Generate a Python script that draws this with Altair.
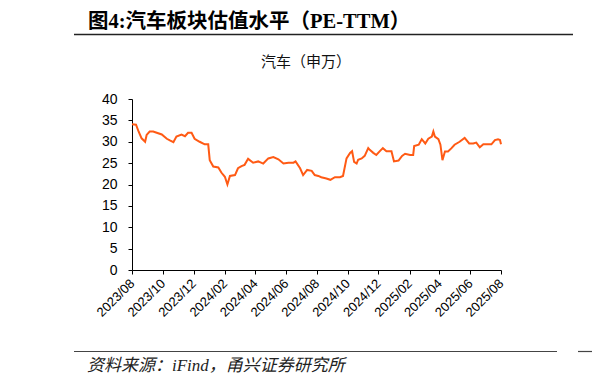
import altair as alt
import pandas as pd

TITLE = "图4:汽车板块估值水平（PE-TTM）"
SUBTITLE = "汽车（申万）"
SOURCE = "资料来源：iFind，甬兴证券研究所"

dates = ["2023-08-01","2023-08-09","2023-08-14","2023-08-20","2023-08-27","2023-08-30",
         "2023-09-05","2023-09-12","2023-09-19","2023-09-29",
         "2023-10-09","2023-10-15","2023-10-22","2023-10-28",
         "2023-11-07","2023-11-14","2023-11-20","2023-11-27",
         "2023-12-03","2023-12-13","2023-12-23","2023-12-30",
         "2024-01-02","2024-01-09","2024-01-19","2024-01-25",
         "2024-02-01","2024-02-06","2024-02-11","2024-02-21","2024-02-27",
         "2024-03-05","2024-03-11","2024-03-18","2024-03-28",
         "2024-04-07","2024-04-17","2024-04-27",
         "2024-05-07","2024-05-17","2024-05-27",
         "2024-06-06","2024-06-16","2024-06-20","2024-06-29",
         "2024-07-05","2024-07-13","2024-07-22","2024-07-28",
         "2024-08-04","2024-08-10","2024-08-20","2024-08-28",
         "2024-09-06","2024-09-16","2024-09-22","2024-09-29",
         "2024-10-06","2024-10-10","2024-10-14","2024-10-19","2024-10-22","2024-10-29",
         "2024-11-04","2024-11-11","2024-11-14","2024-11-21","2024-11-27",
         "2024-12-04","2024-12-10","2024-12-17","2024-12-27",
         "2025-01-01","2025-01-10","2025-01-17","2025-01-23",
         "2025-02-02","2025-02-08","2025-02-10","2025-02-19","2025-02-25",
         "2025-03-04","2025-03-10","2025-03-17","2025-03-20","2025-03-23","2025-03-30",
         "2025-04-03","2025-04-07","2025-04-12","2025-04-18","2025-04-25",
         "2025-05-01","2025-05-11","2025-05-21","2025-05-30",
         "2025-06-07","2025-06-13","2025-06-20","2025-06-27",
         "2025-07-07","2025-07-13","2025-07-20","2025-07-26","2025-07-30",
         "2025-08-01"]

pe = [34.1,34.0,32.4,30.8,30.0,31.6,
      32.4,32.4,32.1,31.7,
      30.7,30.3,29.9,31.2,
      31.7,31.3,32.1,32.1,
      30.7,30.0,29.4,29.4,
      25.7,24.2,24.0,22.8,
      21.8,20.0,22.0,22.2,23.8,
      24.3,24.6,26.0,25.1,
      25.4,24.9,26.1,
      26.4,25.9,24.9,
      25.1,25.1,25.4,23.8,
      22.2,23.4,23.2,22.2,
      22.0,21.7,21.4,21.1,
      21.7,21.7,22.0,26.1,
      27.4,27.8,25.3,24.9,25.8,26.1,
      26.7,28.5,28.1,27.4,26.9,
      27.8,28.5,27.8,27.8,
      25.4,25.6,26.7,27.2,
      26.9,26.9,29.0,29.3,30.6,
      29.6,30.7,31.2,32.4,31.2,30.6,
      29.3,25.7,27.7,27.7,28.5,
      29.3,30.0,30.9,29.6,
      29.6,29.8,28.7,29.4,
      29.4,29.4,30.4,30.6,30.4,
      29.4]

tick_dates = ["2023-08-01", "2023-10-01", "2023-12-01", "2024-02-01", "2024-04-01",
              "2024-06-01", "2024-08-01", "2024-10-01", "2024-12-01", "2025-02-01",
              "2025-04-01", "2025-06-01", "2025-08-01"]
y_ticks = [0, 5, 10, 15, 20, 25, 30, 35, 40]

df = pd.DataFrame({"date": dates, "pe": pe})


def ms(s):
    return int(pd.Timestamp(s, tz="UTC").value // 10**6)


tick_ms = [ms(d) for d in tick_dates]

LABEL_FONT = "Liberation Sans"
CJK = "Liberation Serif, Noto Sans CJK SC"

line = alt.Chart(df).mark_line(color="#FF5A14", strokeWidth=2).encode(
    x=alt.X("date:T",
            scale=alt.Scale(type="utc", domain=[tick_ms[0], tick_ms[-1]], nice=False),
            axis=alt.Axis(values=tick_ms,
                          labelExpr="utcFormat(datum.value, '%Y/%m')",
                          labelAngle=-45, labelAlign="right", labelBaseline="middle",
                          labelPadding=7, labelOverlap=False, labelBound=False,
                          title=None, grid=False, tickSize=4,
                          labelFont=LABEL_FONT, labelFontSize=13, labelColor="#000000",
                          domainColor="#000000", tickColor="#000000")),
    y=alt.Y("pe:Q", scale=alt.Scale(domain=[0, 40], nice=False),
            axis=alt.Axis(values=y_ticks, title=None, grid=False, tickSize=4,
                          labelPadding=11,
                          labelFont=LABEL_FONT, labelFontSize=14, labelColor="#000000",
                          domainColor="#000000", tickColor="#000000")),
)

one = pd.DataFrame({"t": [0]})

title = alt.Chart(pd.DataFrame({"t": [TITLE]})).mark_text(
    font=CJK, fontSize=20.5, fontWeight="bold", align="left", baseline="alphabetic", color="#000000"
).encode(text="t:N", x=alt.value(-44), y=alt.value(-71))

subtitle = alt.Chart(pd.DataFrame({"t": [SUBTITLE]})).mark_text(
    font="Noto Sans CJK SC", fontSize=15, align="center", baseline="middle", color="#111111"
).encode(text="t:N", x=alt.value(174), y=alt.value(-37))

source = alt.Chart(pd.DataFrame({"t": [SOURCE]})).mark_text(
    font=CJK, fontSize=17, fontStyle="italic", align="left", baseline="middle", color="#222222"
).encode(text="t:N", x=alt.value(-45), y=alt.value(267))

rule_top1 = alt.Chart(one).mark_rule(color="#222222", strokeWidth=1.5).encode(
    x=alt.value(-58), x2=alt.value(441), y=alt.value(-64.5))
rule_top2 = alt.Chart(one).mark_rule(color="#222222", strokeWidth=1.5).encode(
    x=alt.value(464), x2=alt.value(470), y=alt.value(-64.5))
rule_bot1 = alt.Chart(one).mark_rule(color="#444444", strokeWidth=1.2).encode(
    x=alt.value(-58), x2=alt.value(425), y=alt.value(252.5))
rule_bot2 = alt.Chart(one).mark_rule(color="#444444", strokeWidth=1.2).encode(
    x=alt.value(446), x2=alt.value(470), y=alt.value(252.5))

chart = alt.layer(line, title, subtitle, source, rule_top1, rule_top2, rule_bot1, rule_bot2).properties(
    width=369, height=171,
    background="white",
    autosize=alt.AutoSizeParams(type="none"),
    padding={"left": 124, "top": 91, "right": 91, "bottom": 106},
).configure_view(stroke=None).configure_axis(
    domainColor="#000000", tickColor="#000000", labelColor="#000000",
    labelFont=LABEL_FONT, labelFontSize=14, domainWidth=1, tickWidth=1,
)

chart.save("out.html", embed_options={"renderer": "svg", "actions": False})
